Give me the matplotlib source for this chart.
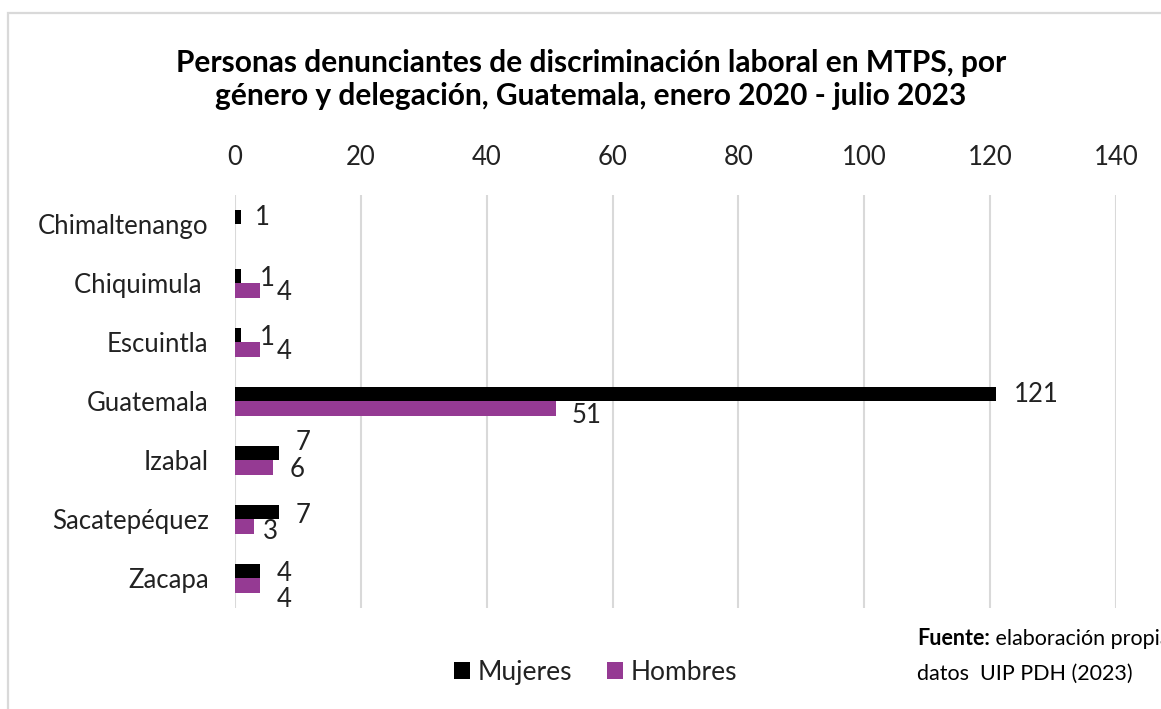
import numpy as np
import matplotlib.pyplot as plt
from matplotlib.patches import Rectangle
from matplotlib.text import Annotation

plt.rcParams['font.family'] = ['Lato', 'DejaVu Sans']

delegaciones = ['Chimaltenango', 'Chiquimula ', 'Escuintla', 'Guatemala',
                'Izabal', 'Sacatepéquez', 'Zacapa']
mujeres = [1, 1, 1, 121, 7, 7, 4]
hombres = [0, 4, 4, 51, 6, 3, 4]

negro = '#000000'
morado = '#953a93'
gris = '#d9d9d9'
texto = '#222222'

# desplazamientos de las etiquetas en pixeles (dx, dy; dy positivo = hacia abajo)
off_m = [(14, 0), (19, 2), (19, 2), (17, 0), (17, -11), (17, 3), (17, 2)]
off_h = [(17, 0), (17, 2), (17, 2), (16, 7), (17, 2), (9, 5), (17, 14)]

fig = plt.figure(figsize=(11.61, 7.09), dpi=100)
ax = fig.add_axes([0.2024, 0.1425, 0.7588, 0.5825])

y = np.arange(len(delegaciones))
h = 0.25
ax.barh(y - h / 2, mujeres, height=h, color=negro, label='Mujeres', zorder=3)
ax.barh(y + h / 2, hombres, height=h, color=morado, label='Hombres', zorder=3)

px = 72 / 100
for i in range(len(delegaciones)):
    ax.annotate(str(mujeres[i]), (mujeres[i], y[i] - h / 2),
                xytext=(off_m[i][0] * px, -off_m[i][1] * px), textcoords='offset points',
                ha='left', va='center', fontsize=18.5, color=texto)
    if hombres[i] > 0:
        ax.annotate(str(hombres[i]), (hombres[i], y[i] + h / 2),
                    xytext=(off_h[i][0] * px, -off_h[i][1] * px), textcoords='offset points',
                    ha='left', va='center', fontsize=18.5, color=texto)

ax.set_xlim(0, 140)
ax.set_xticks(np.arange(0, 141, 20))
ax.set_ylim(len(delegaciones) - 0.5, -0.5)
ax.set_yticks(y)
ax.set_yticklabels(delegaciones)
ax.xaxis.tick_top()
ax.tick_params(axis='both', length=0, labelsize=18.5, labelcolor=texto)
ax.tick_params(axis='x', pad=18)
ax.tick_params(axis='y', pad=19)
ax.grid(axis='x', color=gris, linewidth=1.5, zorder=0)
for s in ax.spines.values():
    s.set_visible(False)

fig.text(0.509, 0.888, 'Personas denunciantes de discriminación laboral en MTPS, por\n'
         'género y delegación, Guatemala, enero 2020 - julio 2023',
         ha='center', va='center', fontsize=21.5, fontweight='bold', linespacing=1.25)

fig.legend(loc='center', bbox_to_anchor=(0.513, 0.052), ncol=2, frameon=False,
           fontsize=19, handlelength=0.6, handleheight=0.6, handletextpad=0.3,
           columnspacing=1.3, labelcolor=texto)

t = fig.text(917 / 1161, 1 - 645 / 709, 'Fuente:', fontsize=15.5, fontweight='bold',
             ha='left', va='baseline')
fig.add_artist(Annotation(' elaboración propia con', xy=(1, 0), xycoords=t,
                          fontsize=15.5, ha='left', va='bottom'))
fig.text(917 / 1161, 1 - 680 / 709, 'datos  UIP PDH (2023)', fontsize=15.5,
         ha='left', va='baseline')

fig.add_artist(Rectangle((8 / 1161, -0.1), 1.2, 1.1 - 13 / 709,
                         transform=fig.transFigure, fill=False,
                         edgecolor=gris, linewidth=1.6))

fig.savefig('out.png', dpi=100)
